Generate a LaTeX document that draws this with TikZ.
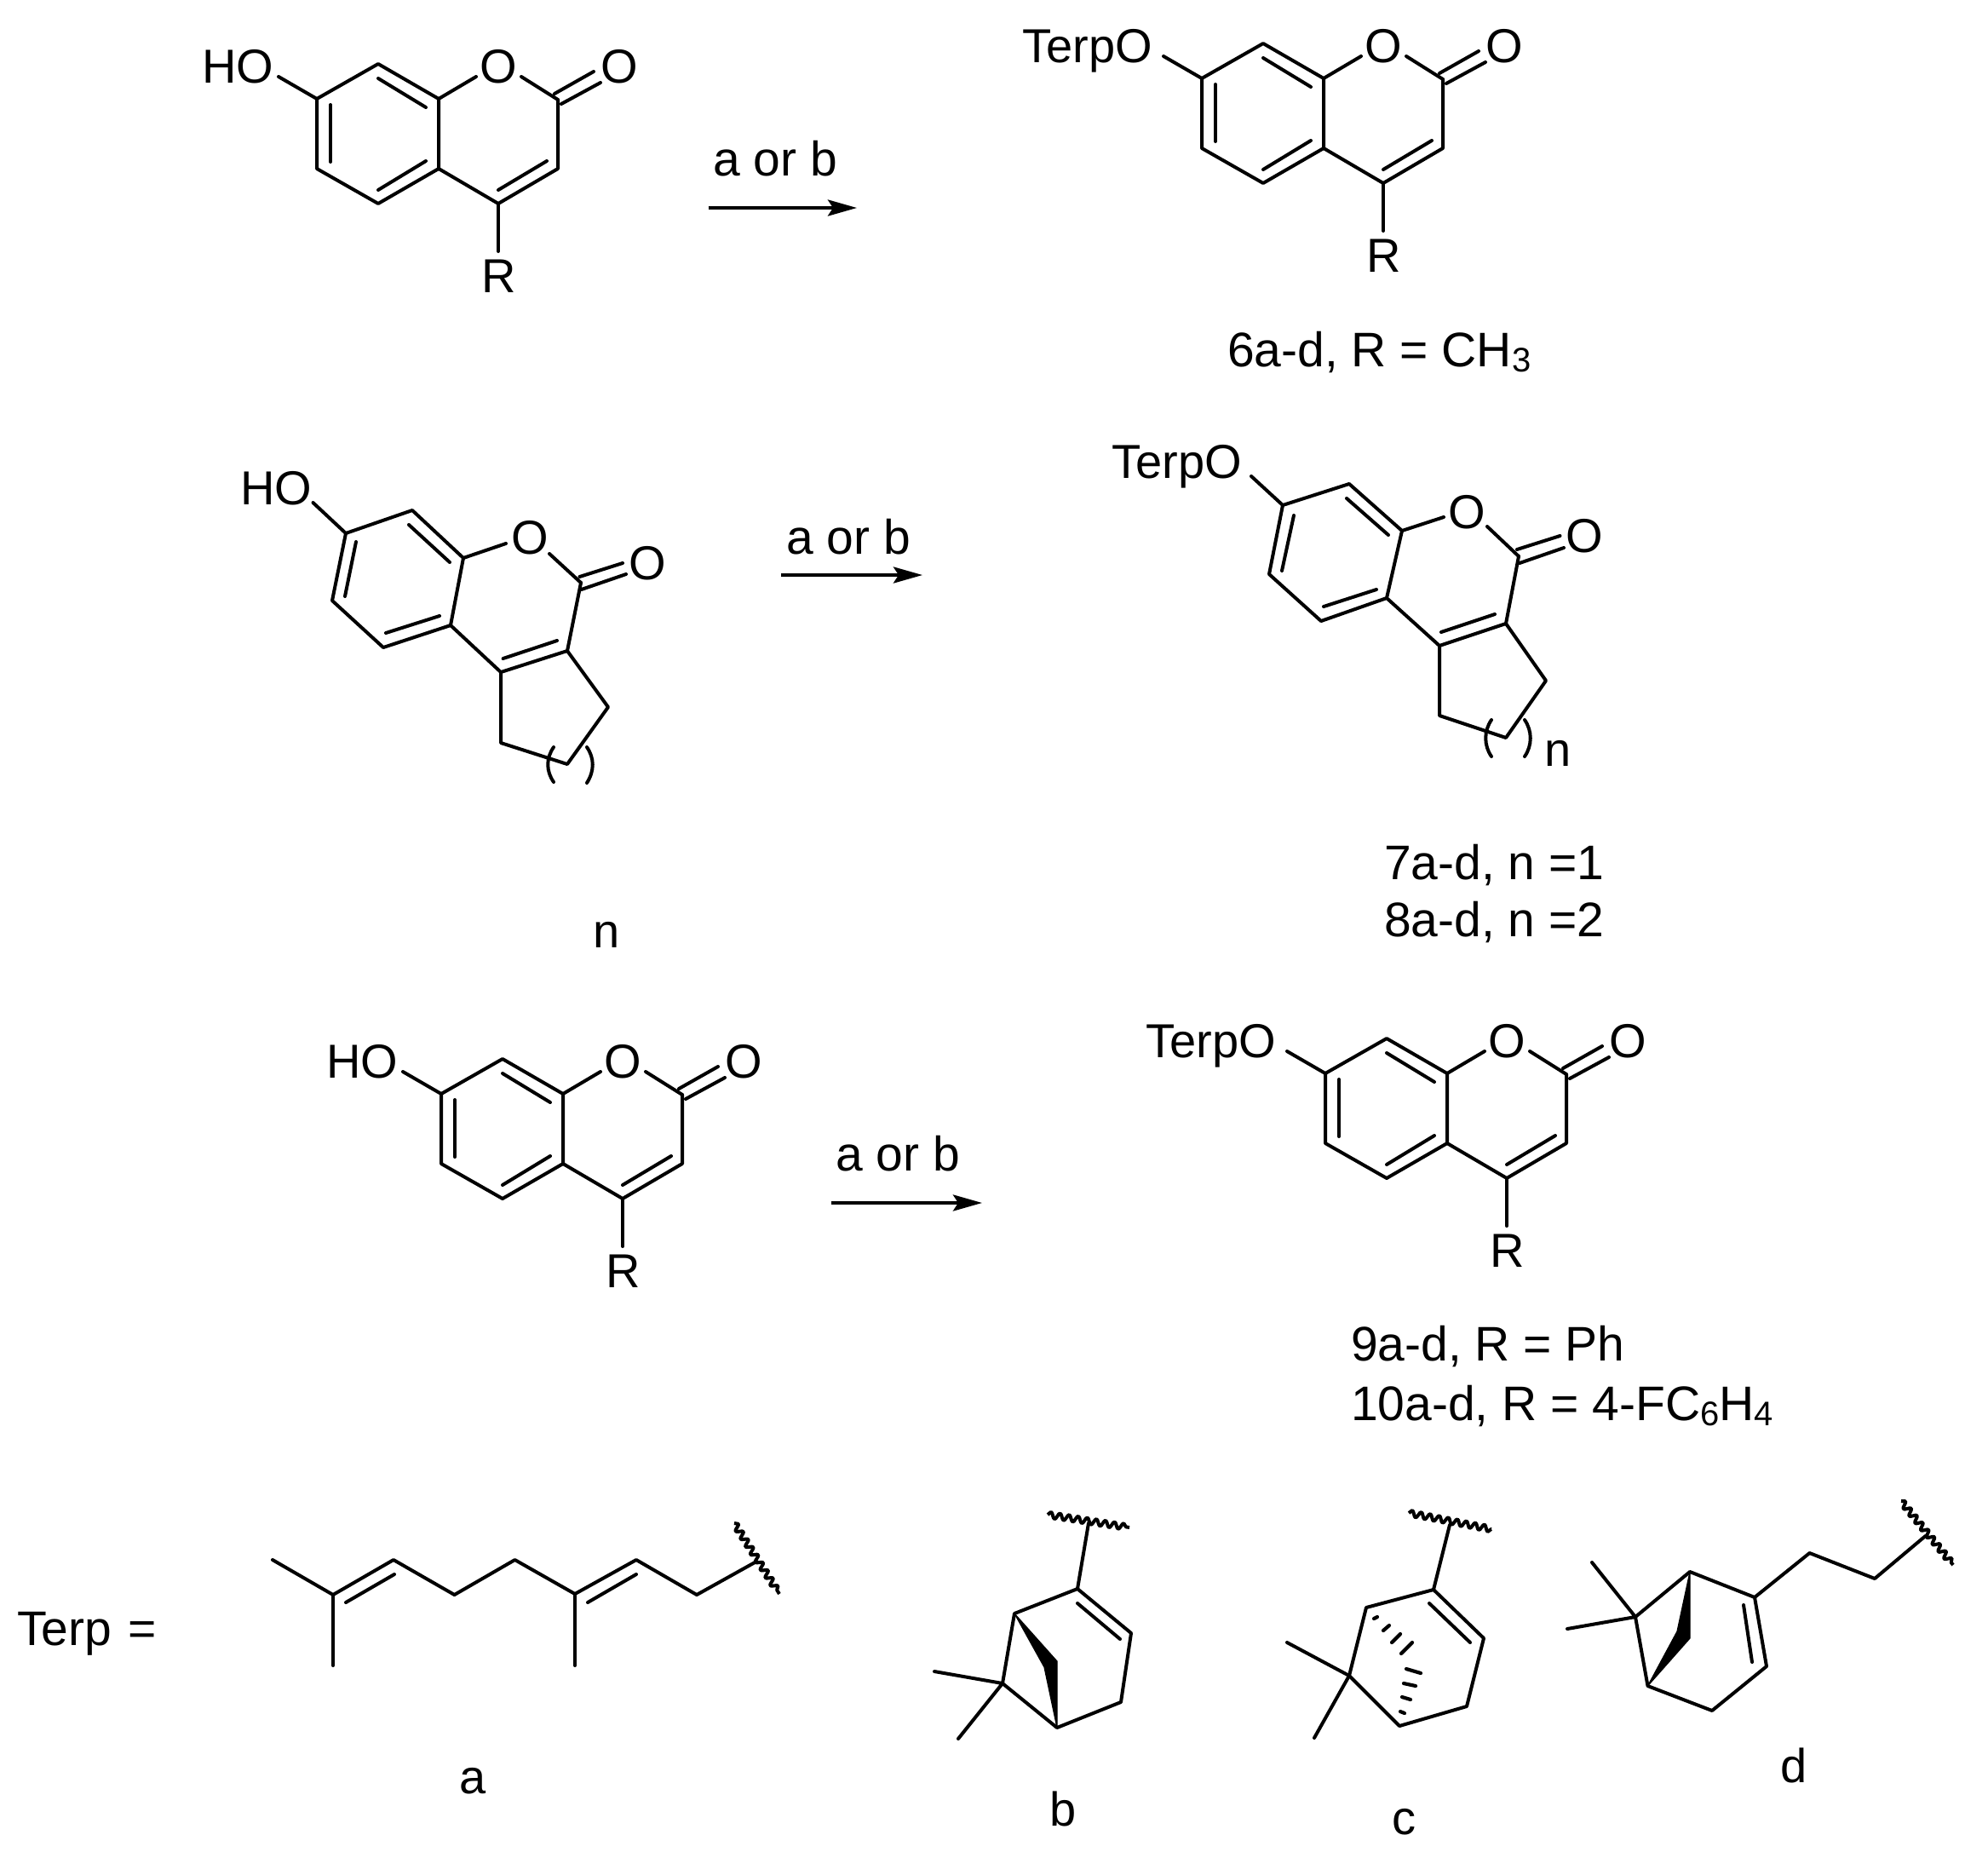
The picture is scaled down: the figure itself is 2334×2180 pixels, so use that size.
\documentclass[tikz,border=0pt]{standalone}
\usepackage{fontspec}
\setmainfont{Liberation Sans}
\usetikzlibrary{decorations.pathmorphing,arrows.meta}
\tikzset{
  bond/.style={line width=2pt,line join=round,line cap=round,black},
  wavy/.style={bond,line cap=butt,decorate,decoration={snake,amplitude=1.9pt,segment length=5.4pt}},
  wedge/.style={fill=black,draw=black,line width=0.6pt,line join=round},
  hashb/.style={line width=2.1pt,line cap=round,black},
  lbl/.style={inner sep=0pt,outer sep=0pt,font=\fontsize{28}{33}\selectfont,anchor=base},
  lble/.style={lbl,anchor=base east},
  captext/.style={inner sep=0pt,outer sep=0pt,font=\fontsize{28.5}{34}\selectfont,anchor=base west},
  rxn/.style={line width=2pt,-{Stealth[length=17pt,width=9.5pt,inset=3pt]}},
}
\newcommand{\subs}[1]{\raisebox{-3.4pt}{\fontsize{20}{24}\selectfont #1}}
% coumarin: prefix, dx, dy, left label, its right edge
\newcommand{\coum}[5]{%
\begin{scope}[shift={(#2,#3)}]
  \coordinate (#1c7) at (372,116);
  \coordinate (#1c8) at (444,75);
  \coordinate (#1c8a) at (515,116);
  \coordinate (#1c2) at (655,117);
  \coordinate (#1c3) at (655,198);
  \coordinate (#1c4) at (585,239);
  \coordinate (#1c4a) at (515,198);
  \coordinate (#1c5) at (444,239);
  \coordinate (#1c6) at (372,198);
  \coordinate (#1oa) at (327,90);
  \coordinate (#1ob) at (559,90);
  \coordinate (#1oc) at (612,90);
  \coordinate (#1rb) at (585,295);
  \node[lble] (#1sub) at (#5,97) {#4};
  \node[lbl] (#1o) at (585,97) {O};
  \node[lbl] (#1oc2) at (727,97) {O};
  \node[lbl] (#1r) at (586,343) {R};
  \draw[bond] (#1c7)--(#1c8)--(#1c8a)--(#1c4a)--(#1c5)--(#1c6)--cycle;
  \draw[bond] (#1c4a)--(#1c4)--(#1c3)--(#1c2);
  \draw[bond] (#1oa)--(#1c7);
  \draw[bond] (#1ob)--(#1c8a);
  \draw[bond] (#1oc)--(#1c2);
  \draw[bond] (#1c4)--(#1rb);
  \draw[bond] (651,110)--(697,84);
  \draw[bond] (659,122)--(705,97);
  \draw[bond] (388,123)--(388,190);
  \draw[bond] (444,92)--(500,126);
  \draw[bond] (500,189)--(444,223);
  \draw[bond] (642,189)--(585,223);
\end{scope}}
% reaction arrow: prefix, text x, text y, arrow start, arrow end, arrow y
\newcommand{\rxnarrow}[6]{%
  \coordinate (#1a) at (#4,#6);
  \coordinate (#1b) at (#5,#6);
  \node[captext] (#1t) at (#2,#3) {a or b};
  \draw[rxn] (#1a)--(#1b);}
\begin{document}
\begin{tikzpicture}[x=0.5pt,y=-0.5pt]
\useasboundingbox[fill=white] (0,0) rectangle (2334,2180);
\coum{sa}{0}{0}{HO}{321}
\coum{pa}{1039}{-24}{TerpO}{314}
\coum{sc}{146}{1168}{HO}{321}
\coum{pc}{1184}{1144}{TerpO}{314}
\rxnarrow{ra}{837}{206}{831.5}{1006}{244}
\rxnarrow{rb}{923.5}{650}{917}{1083}{675}
\rxnarrow{rc}{981}{1374}{976}{1153}{1412}
\node[captext] (capa) at (1441,430) {6a-d, R = CH\subs{3}};
% substrate 2
\coordinate (b7) at (406,626);
\coordinate (b8) at (484,599);
\coordinate (b8a) at (544,655);
\coordinate (b2) at (682,684);
\coordinate (b3) at (666,764);
\coordinate (b4) at (588,789);
\coordinate (b4a) at (529,734);
\coordinate (b5) at (450,760);
\coordinate (b6) at (390,705);
\coordinate (bx) at (714,830);
\coordinate (by) at (666,897);
\coordinate (bz) at (588,872);
\coordinate (boa) at (367.5,590);
\coordinate (bob) at (594,638);
\coordinate (boc) at (645,650);
\node[lbl] (bho) at (324,592) {HO};
\node[lbl] (bo) at (622,650) {O};
\node[lbl] (bco) at (760,680) {O};
\node[lbl] (bn) at (712,1112) {n};
\draw[bond] (b7)--(b8)--(b8a)--(b4a)--(b5)--(b6)--cycle;
\draw[bond] (b4a)--(b4)--(b3)--(b2);
\draw[bond] (b4)--(bz)--(by)--(bx)--(b3);
\draw[bond] (boa)--(b7);
\draw[bond] (bob)--(b8a);
\draw[bond] (boc)--(b2);
\draw[bond] (680.5,677)--(731,661);
\draw[bond] (682.5,692)--(735,674);
\draw[bond] (418,636)--(405,700);
\draw[bond] (480,616)--(528,660);
\draw[bond] (516,723)--(453,743);
\draw[bond] (654,752)--(590.6,773);
\draw[bond] (650,877) .. controls (641,890) and (641,905) .. (650,918);
\draw[bond] (689,877) .. controls (698,890) and (698,905) .. (689,919);
% product 2
\coordinate (d7) at (1506,593);
\coordinate (d8) at (1584,568);
\coordinate (d8a) at (1646,623);
\coordinate (d2) at (1783,653);
\coordinate (d3) at (1768,732);
\coordinate (d4) at (1690,758);
\coordinate (d4a) at (1628,702);
\coordinate (d5) at (1551,729);
\coordinate (d6) at (1490,674);
\coordinate (dx) at (1815,799);
\coordinate (dy) at (1768,866);
\coordinate (dz) at (1690,840);
\coordinate (doa) at (1469,559);
\coordinate (dob) at (1695,607);
\coordinate (doc) at (1746,618);
\node[lble] (dho) at (1458,561) {TerpO};
\node[lbl] (do) at (1722,620) {O};
\node[lbl] (dco) at (1860.5,648) {O};
\node[lbl,anchor=base west] (dn) at (1813,899) {n};
\draw[bond] (d7)--(d8)--(d8a)--(d4a)--(d5)--(d6)--cycle;
\draw[bond] (d4a)--(d4)--(d3)--(d2);
\draw[bond] (d4)--(dz)--(dy)--(dx)--(d3);
\draw[bond] (doa)--(d7);
\draw[bond] (dob)--(d8a);
\draw[bond] (doc)--(d2);
\draw[bond] (1781,645)--(1831.5,629);
\draw[bond] (1784,661)--(1836,643);
\draw[bond] (1519,605)--(1505,670);
\draw[bond] (1581,585)--(1630,628);
\draw[bond] (1616,692)--(1554,712);
\draw[bond] (1755,721)--(1692,742);
\draw[bond] (1751,845) .. controls (1742,858) and (1742,875) .. (1751,888);
\draw[bond] (1790,845) .. controls (1799,858) and (1799,875) .. (1790,888);
% captions
\node[captext] (cap7) at (1625,1032) {7a-d, n =1};
\node[captext] (cap8) at (1625,1099) {8a-d, n =2};
\node[captext] (cap9) at (1586,1597) {9a-d, R = Ph};
\node[captext] (cap10) at (1586,1667) {10a-d, R = 4-FC\subs{6}H\subs{4}};
\node[captext] (terp) at (20,1931) {Terp\hspace{10pt}=};
% terp a
\coordinate (a1) at (320,1831);
\coordinate (a2) at (391,1872);
\coordinate (a3) at (391,1955);
\coordinate (a4) at (462,1831);
\coordinate (a5) at (533.5,1872);
\coordinate (a6) at (604.5,1831);
\coordinate (a7) at (675,1871);
\coordinate (a8) at (675,1955);
\coordinate (a9) at (747,1831);
\coordinate (a10) at (818,1872);
\coordinate (a11) at (888,1833);
\coordinate (aw1) at (862,1788);
\coordinate (aw2) at (915,1871);
\draw[bond] (a1)--(a2)--(a4)--(a5)--(a6)--(a7)--(a9)--(a10)--(a11);
\draw[bond] (a2)--(a3);
\draw[bond] (a7)--(a8);
\draw[bond] (406,1881)--(463,1848);
\draw[bond] (690,1881)--(747,1848);
\draw[wavy] (aw1)--(aw2);
\node[lbl] (la) at (555,2105) {a};
% terp b
\coordinate (e0) at (1278,1788);
\coordinate (e1) at (1265,1865);
\coordinate (e2) at (1328,1917);
\coordinate (e3) at (1316,1998);
\coordinate (e4) at (1241,2028);
\coordinate (e5) at (1177,1976);
\coordinate (e6) at (1191,1894);
\coordinate (em1) at (1097,1962);
\coordinate (em2) at (1125,2041);
\coordinate (ew1) at (1230,1778);
\coordinate (ew2) at (1326,1793);
\draw[bond] (e1)--(e2)--(e3)--(e4)--(e5)--(e6)--cycle;
\draw[bond] (e0)--(e1);
\draw[bond] (em1)--(e5)--(em2);
\draw[bond] (1265,1882)--(1315,1924);
\draw[wavy] (ew1)--(ew2);
\fill[wedge] (e6)--(1241,1950)--(e4)--(1226,1957)--cycle;
\node[lbl] (lb) at (1248,2143) {b};
% terp c
\coordinate (f0) at (1702,1790);
\coordinate (f1) at (1683,1866);
\coordinate (f2) at (1742,1923);
\coordinate (f3) at (1722,2003);
\coordinate (f4) at (1643,2026);
\coordinate (f5) at (1584,1967);
\coordinate (f6) at (1604,1887);
\coordinate (fm1) at (1511,1928);
\coordinate (fm2) at (1543,2040);
\coordinate (fw1) at (1654,1776);
\coordinate (fw2) at (1751,1795);
\draw[bond] (f1)--(f2)--(f3)--(f4)--(f5)--(f6)--cycle;
\draw[bond] (f0)--(f1);
\draw[bond] (fm1)--(f5)--(fm2);
\draw[bond] (1678,1882)--(1726,1928);
\draw[wavy] (fw1)--(fw2);
\draw[hashb] (1613,1900)--(1617,1898);
\draw[hashb] (1624,1914)--(1631,1908);
\draw[hashb] (1634,1928)--(1644,1918);
\draw[hashb] (1645,1941)--(1658,1928);
\draw[hashb] (1651,1959)--(1668,1964);
\draw[hashb] (1648,1976)--(1662,1979);
\draw[hashb] (1646,1992)--(1656,1995);
\draw[hashb] (1644,2009)--(1649,2011);
\node[lbl] (lc) at (1648,2153) {c};
% terp d
\coordinate (g1) at (1984,1845);
\coordinate (g2) at (2060,1875);
\coordinate (g3) at (2074,1956);
\coordinate (g4) at (2010,2008);
\coordinate (g5) at (1934.5,1979);
\coordinate (g6) at (1920,1898);
\coordinate (g7) at (2124.5,1823);
\coordinate (g8) at (2201,1853);
\coordinate (g9) at (2260.5,1803);
\coordinate (gm1) at (1869,1834);
\coordinate (gm2) at (1840,1912);
\coordinate (gw1) at (2232,1762);
\coordinate (gw2) at (2293,1837);
\draw[bond] (g1)--(g2)--(g3)--(g4)--(g5)--(g6)--cycle;
\draw[bond] (g2)--(g7)--(g8)--(g9);
\draw[bond] (gm1)--(g6)--(gm2);
\draw[bond] (2047,1884)--(2057,1951);
\draw[wavy] (gw1)--(gw2);
\fill[wedge] (g1)--(1984,1923)--(g5)--(1969,1915)--cycle;
\node[lbl] (ld) at (2106,2092) {d};
\end{tikzpicture}
\end{document}
